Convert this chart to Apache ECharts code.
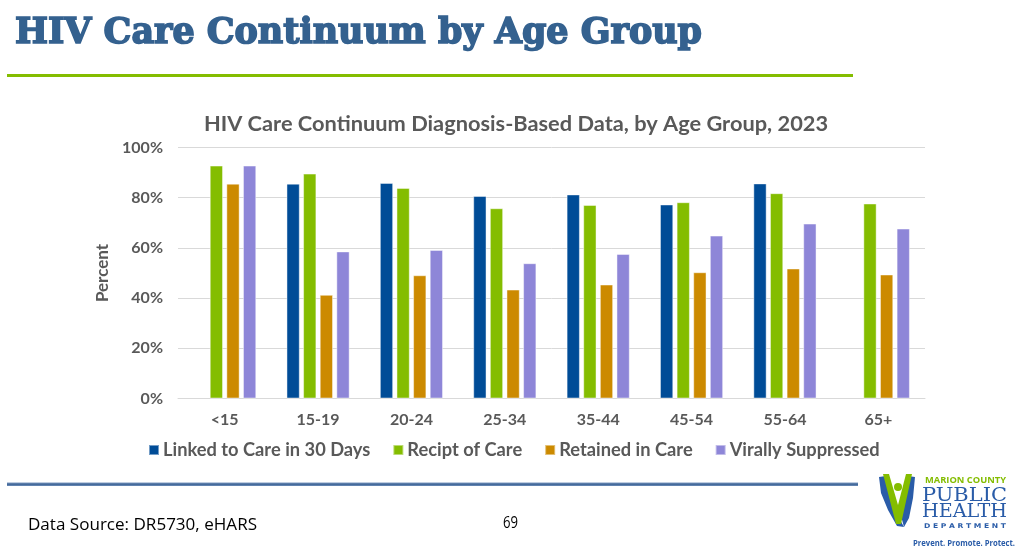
<!DOCTYPE html>
<html>
<head>
<meta charset="utf-8">
<script src="https://cdn.jsdelivr.net/npm/echarts@6/dist/echarts.min.js"></script>
<style>
html,body{margin:0;padding:0;background:#fff;}
#chart{width:1024px;height:556px;}
</style>
</head>
<body>
<div id="chart"></div>
<script>
const categories = ['<15', '15-19', '20-24', '25-34', '35-44', '45-54', '55-64', '65+'];
const seriesNames = ['Linked to Care in 30 Days', 'Recipt of Care', 'Retained in Care', 'Virally Suppressed'];
const linkedToCare = [null, 85.6, 85.9, 80.7, 81.3, 77.3, 85.7, null];
const reciptOfCare = [92.8, 89.6, 83.9, 75.8, 77.1, 78.2, 81.8, 77.7];
const retainedInCare = [85.6, 41.3, 49.1, 43.4, 45.4, 50.3, 51.8, 49.4];
const virallySuppressed = [92.8, 58.6, 59.2, 53.9, 57.6, 64.9, 69.7, 67.7];
const yTicks = [0, 20, 40, 60, 80, 100];

const colors = ['#004C97', '#84BD00', '#CC8A00', '#8E86D8'];
const gray = '#595959';
const font = 'Lato';

function measure(text, fontStr) {
  const c = document.createElement('canvas').getContext('2d');
  c.font = fontStr;
  return c.measureText(text).width;
}
function fitText(text, fontStr, x, y, w, fill, extra) {
  const s = w / measure(text, fontStr);
  return Object.assign({ type: 'text', x: x, y: y, scaleX: s,
    style: Object.assign({ text: text, font: fontStr, fill: fill, textVerticalAlign: 'middle' }, extra || {}) });
}
const titleText = 'HIV Care Continuum by Age Group';

const chart = echarts.init(document.getElementById('chart'));
const allData = [linkedToCare, reciptOfCare, retainedInCare, virallySuppressed];

chart.setOption({
  animation: false,
  backgroundColor: '#fff',
  title: {
    text: 'HIV Care Continuum Diagnosis-Based Data, by Age Group, 2023',
    left: 511, top: 108, textAlign: 'center',
    textStyle: { fontFamily: font, fontWeight: 'bold', fontSize: 21.8, color: gray }
  },
  legend: {
    data: seriesNames,
    left: 148, top: 441,
    itemWidth: 10, itemHeight: 10, itemGap: 22,
    icon: 'rect',
    padding: 0,
    textStyle: { fontFamily: font, fontWeight: 'bold', fontSize: 18.3, color: gray, padding: [0, 0, 0, -1] }
  },
  grid: { left: 178, right: 99, top: 147.5, bottom: 157.5, containLabel: false },
  xAxis: {
    type: 'category',
    data: categories,
    axisLine: { show: true, lineStyle: { color: '#d9d9d9', width: 1 } },
    axisTick: { show: false },
    axisLabel: { fontFamily: font, fontWeight: 'bold', fontSize: 16, color: gray, margin: 13 }
  },
  yAxis: {
    type: 'value',
    min: yTicks[0], max: yTicks[yTicks.length - 1], interval: 20,
    name: 'Percent',
    nameLocation: 'middle',
    nameGap: 62,
    nameTextStyle: { fontFamily: font, fontWeight: 'bold', fontSize: 17, color: gray },
    axisLine: { show: false },
    axisTick: { show: false },
    splitLine: { lineStyle: { color: '#d9d9d9', width: 1 } },
    axisLabel: { fontFamily: font, fontWeight: 'bold', fontSize: 16, color: gray, margin: 15, formatter: v => v + '%' }
  },
  series: seriesNames.map((name, i) => ({
    name: name,
    type: 'bar',
    data: allData[i],
    barWidth: 13.3,
    barGap: '25%',
    itemStyle: { color: colors[i], borderColor: 'rgba(255,255,255,0.45)', borderWidth: 1 }
  })),
  graphic: [
    fitText(titleText, 'bold 35px "DejaVu Serif"', 15, 34, 687, '#34618F', { stroke: '#34618F', lineWidth: 1.6 }),
    { type: 'rect', shape: { x: 7, y: 74, width: 846, height: 3 }, style: { fill: '#84BD00' } },
    { type: 'rect', shape: { x: 7, y: 482.5, width: 851, height: 3.5 },
      style: { fill: new echarts.graphic.LinearGradient(0, 0, 0, 1, [
        { offset: 0, color: '#7f9cc2' }, { offset: 0.5, color: '#3E6496' }, { offset: 1, color: '#6f8fba' }]) } },
    fitText('Data Source: DR5730, eHARS', '16px "Open Sans"', 28, 525, 229, '#000'),
    fitText('69', '17px "Open Sans"', 503, 523, 15, '#000'),
    // logo
    { type: 'polygon', shape: { points: [[879,477],[886,476],[891,495],[898,516],[904,527],[897,526],[888,510],[881,493]] }, style: { fill: '#2A5CA8' } },
    { type: 'polygon', shape: { points: [[915,477],[908,476],[905,495],[901,516],[904,527],[909,518],[913,498]] }, style: { fill: '#2A5CA8' } },
    { type: 'polygon', shape: { points: [[883,474],[889,474],[898,505],[906,474],[912,474],[901,524],[896,524]] }, style: { fill: '#84BD00' } },
    { type: 'circle', shape: { cx: 898, cy: 487, r: 4 }, style: { fill: '#84BD00' } },
    fitText('MARION COUNTY', 'bold 8px "Open Sans"', 925, 481, 81, '#84BD00'),
    fitText('PUBLIC', '19px "DejaVu Serif Condensed"', 922, 496, 85, '#2A5CA8'),
    fitText('HEALTH', '19px "DejaVu Serif Condensed"', 922, 512, 85, '#2A5CA8'),
    fitText('D E P A R T M E N T', 'bold 6.5px "DejaVu Sans"', 924, 526, 82, '#2A5CA8'),
    fitText('Prevent. Promote. Protect.', 'bold 9px "Open Sans"', 913, 543, 102, '#2A5CA8')
  ]
});
</script>
</body>
</html>
